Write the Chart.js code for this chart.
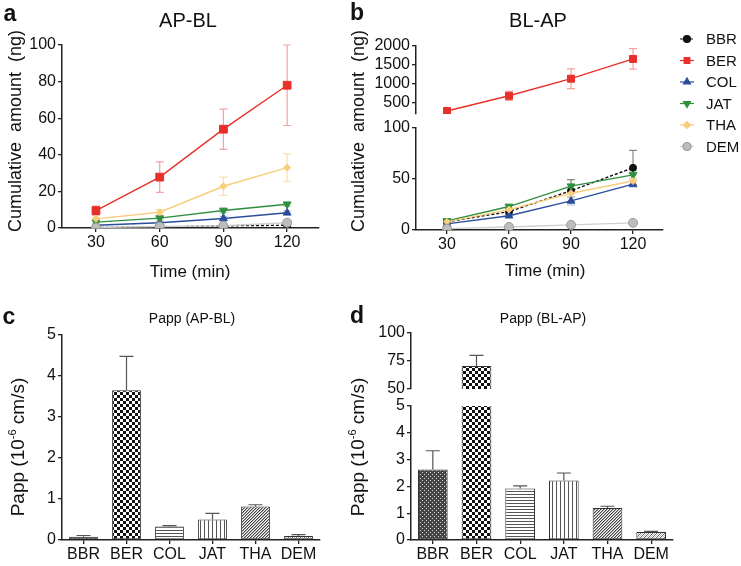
<!DOCTYPE html>
<html>
<head>
<meta charset="utf-8">
<script src="https://cdn.jsdelivr.net/npm/chart.js@4.4.0/dist/chart.umd.min.js"></script>
<style>
  body { margin: 0; width: 741px; height: 566px; background: #fff; position: relative; overflow: hidden;
         font-family: 'Liberation Sans', Arial, sans-serif; color: #111; }
  canvas { position: absolute; }
  .t { position: absolute; white-space: nowrap; transform: translate(-50%, -50%); line-height: 1; }
  .v { transform: translate(-50%, -50%) rotate(-90deg); }
  .lt { font-weight: bold; font-size: 23px; }
  sup { font-size: 11px; }
</style>
</head>
<body>
<canvas id="cA"></canvas>
<canvas id="cB2"></canvas>
<canvas id="cB1"></canvas>
<canvas id="cC"></canvas>
<canvas id="cD2"></canvas>
<canvas id="cD1"></canvas>

<div class="t lt" style="left:10px;top:13px">a</div>
<div class="t lt" style="left:357px;top:12px">b</div>
<div class="t lt" style="left:9px;top:316px">c</div>
<div class="t lt" style="left:357px;top:315px">d</div>
<div class="t" style="left:188px;top:20px;font-size:20px">AP-BL</div>
<div class="t" style="left:538px;top:20px;font-size:20px">BL-AP</div>
<div class="t" style="left:190px;top:271px;font-size:17px">Time (min)</div>
<div class="t" style="left:545px;top:270px;font-size:17px">Time (min)</div>
<div class="t v" style="left:15px;top:131px;font-size:18px">Cumulative&nbsp; amount&nbsp; (ng)</div>
<div class="t v" style="left:358px;top:131px;font-size:18px">Cumulative&nbsp; amount&nbsp; (ng)</div>
<div class="t" style="left:192px;top:318px;font-size:14px">Papp (AP-BL)</div>
<div class="t" style="left:543px;top:318px;font-size:14px">Papp (BL-AP)</div>
<div class="t v" style="left:17px;top:447px;font-size:19px">Papp (10<sup>-6</sup> cm/s)</div>
<div class="t v" style="left:357px;top:447px;font-size:19px">Papp (10<sup>-6</sup> cm/s)</div>

<script>
// time points (min) and compounds
const times = [30, 60, 90, 120];
const drugs = ['BBR', 'BER', 'COL', 'JAT', 'THA', 'DEM'];

// a: AP-BL cumulative amount (ng)
const apBBR = [0.3, 0.5, 1.2, 1.5];
const apBER = [9.5, 27.8, 54, 78];
const apCOL = [1.5, 2.9, 5.2, 8.3];
const apJAT = [3.2, 5.4, 9.6, 13];
const apTHA = [5, 8.6, 22.8, 33];
const apDEM = [0.3, 0.8, 1.2, 2.9];
const apErrBBR = [0.3, 0.3, 0.5, 0.5];
const apErrBER = [2.5, 8.3, 11, 22];
const apErrCOL = [0.5, 0.8, 1.2, 1];
const apErrJAT = [0.8, 1, 1.2, 1];
const apErrTHA = [1, 1.5, 5, 7.5];
const apErrDEM = [0.2, 0.3, 0.4, 0.6];

// b: BL-AP cumulative amount (ng)
const blBBR = [8, 18, 38.5, 61];
const blBER = [290, 690, 1140, 1660];
const blCOL = [6, 14, 28.5, 45];
const blJAT = [9, 23, 43, 54];
const blTHA = [8, 20, 36, 48];
const blDEM = [1.3, 3, 5, 7];
const blErrBBR = [2, 3, 11, 17];
const blErrBER = [40, 120, 260, 270];
const blErrCOL = [1, 2, 4, 3];
const blErrJAT = [1.5, 2.5, 6, 4];
const blErrTHA = [1, 2, 4, 3];
const blErrDEM = [0.3, 0.5, 0.5, 0.8];

// c, d: Papp (10^-6 cm/s)
const pappAPBL = [0.08, 3.65, 0.33, 0.50, 0.82, 0.10];
const pappAPBLErr = [0.03, 0.83, 0.02, 0.15, 0.04, 0.03];
const pappBLAP = [2.63, 70.6, 1.92, 2.22, 1.19, 0.30];
const pappBLAPErr = [0.70, 9.4, 0.10, 0.28, 0.07, 0.02];

// axis ticks
const ticksA = [0, 20, 40, 60, 80, 100];
const ticksBHigh = [500, 1000, 1500, 2000];
const ticksBLow = [0, 50, 100];
const ticksC = [0, 1, 2, 3, 4, 5];
const ticksDHigh = [50, 75, 100];
const ticksDLow = [0, 1, 2, 3, 4, 5];

const FONT = "'Liberation Sans', Arial, sans-serif";
Chart.defaults.font.family = FONT;
Chart.defaults.color = '#111';

const look = {
  BBR: { color: '#111', point: 'circle', r: 3.5, dash: [3, 2], err: '#888', bg: '#111' },
  BER: { color: '#e8302a', point: 'rect', r: 5.5, err: 'rgba(232,48,42,0.45)', bg: '#e8302a' },
  COL: { color: '#2a4d9c', point: 'triangle', r: 4.5, err: 'rgba(42,77,156,0.35)', bg: '#2a4d9c' },
  JAT: { color: '#2f8f3f', point: 'triangle', rot: 180, r: 4.5, err: 'rgba(47,143,63,0.4)', bg: '#2f8f3f' },
  THA: { color: '#f8cd7c', point: 'rectRot', r: 3.5, err: 'rgba(248,205,124,0.6)', bg: '#f8cd7c' },
  DEM: { color: '#cfcfcf', point: 'circle', r: 4.5, err: '#ccc', bg: '#bdbdbd', border: '#999' }
};

// error bars drawn from the dataset's own scales
const errorBars = {
  id: 'errorBars',
  beforeDatasetsDraw(chart) {
    const ctx = chart.ctx, a = chart.chartArea;
    ctx.save();
    ctx.beginPath();
    ctx.rect(a.left - 10, a.top - 1, a.right - a.left + 20, a.bottom - a.top + 2);
    ctx.clip();
    chart.data.datasets.forEach((ds, i) => {
      if (!ds.errors) return;
      const meta = chart.getDatasetMeta(i);
      const vs = meta.vScale;
      ds.data.forEach((d, j) => {
        const v = typeof d === 'object' ? d.y : d;
        const e = ds.errors[j];
        const x = meta.data[j].x;
        const top = vs.getPixelForValue(v + e);
        const bot = ds.oneSided ? vs.getPixelForValue(v) : vs.getPixelForValue(v - e);
        ctx.strokeStyle = ds.errColor;
        ctx.lineWidth = 1.2;
        ctx.setLineDash([]);
        ctx.beginPath();
        ctx.moveTo(x, top); ctx.lineTo(x, bot);
        ctx.moveTo(x - ds.cap, top); ctx.lineTo(x + ds.cap, top);
        if (!ds.oneSided) { ctx.moveTo(x - ds.cap, bot); ctx.lineTo(x + ds.cap, bot); }
        ctx.stroke();
      });
    });
    ctx.restore();
  }
};

// legend at the right of panel b
const sideLegend = {
  id: 'sideLegend',
  afterDraw(chart, args, opts) {
    if (!opts.names) return;
    const ctx = chart.ctx;
    ctx.save();
    opts.names.forEach((n, i) => {
      const s = look[n];
      const y = opts.y + i * opts.dy;
      ctx.strokeStyle = s.color;
      ctx.lineWidth = 1.2;
      ctx.setLineDash(s.dash || []);
      ctx.beginPath();
      ctx.moveTo(opts.x - 7, y); ctx.lineTo(opts.x + 7, y);
      ctx.stroke();
      ctx.setLineDash([]);
      ctx.fillStyle = s.bg;
      ctx.strokeStyle = s.border || s.color;
      const r = Math.min(s.r, 4);
      if (Chart.helpers && Chart.helpers.drawPoint) {
        Chart.helpers.drawPoint(ctx, { pointStyle: s.point, rotation: s.rot || 0, radius: r, borderWidth: 1 }, opts.x, y);
      } else {
        ctx.beginPath(); ctx.arc(opts.x, y, r, 0, Math.PI * 2); ctx.fill();
      }
      ctx.fillStyle = '#111';
      ctx.font = '15px ' + FONT;
      ctx.textBaseline = 'middle';
      ctx.fillText(n, opts.tx, y + 1);
    });
    ctx.restore();
  }
};

function place(id, box) {
  const c = document.getElementById(id);
  c.width = box[2]; c.height = box[3];
  c.style.left = box[0] + 'px'; c.style.top = box[1] + 'px';
  return c;
}

function axis(size, pad) {
  return {
    grid: { drawOnChartArea: false, drawTicks: true, tickLength: 4, color: '#222', lineWidth: 1.3, offset: false },
    border: { display: true, color: '#222', width: 1.5 },
    ticks: { font: { size: size }, color: '#111', padding: pad, maxRotation: 0, autoSkip: false }
  };
}

function lineSet(name, vals, errs, r) {
  const s = look[name];
  return {
    label: name,
    data: times.map((t, i) => ({ x: t, y: vals[i] })),
    errors: errs, errColor: s.err, cap: 4,
    borderColor: s.color, borderWidth: 1.4, borderDash: s.dash || [],
    backgroundColor: s.bg, pointBackgroundColor: s.bg, pointBorderColor: s.border || s.color,
    pointBorderWidth: 1, pointStyle: s.point, pointRotation: s.rot || 0,
    pointRadius: r ? r * s.r : s.r, tension: 0, fill: false
  };
}

// box = canvas [x, y, w, h]; area = plot area [left, top, right, bottom], page coords
function chartIn(id, type, box, area, showX, xScale, yMin, yMax, yTicks, datasets, extra) {
  const xh = showX ? 22 : 0;
  const xs = Object.assign({ display: showX, afterFit: s => { s.height = xh; } }, axis(16, 1), xScale);
  const ys = axis(16, 2);
  ys.ticks.callback = v => String(v);
  return new Chart(place(id, box), {
    type: type,
    data: { labels: type === 'bar' ? drugs : undefined, datasets: datasets },
    options: {
      responsive: false, animation: false, devicePixelRatio: 1,
      layout: { padding: { left: 0, top: area[1] - box[1], right: box[0] + box[2] - area[2], bottom: box[1] + box[3] - area[3] - xh } },
      plugins: { legend: { display: false }, tooltip: { enabled: false }, sideLegend: extra || {} },
      scales: {
        x: xs,
        y: Object.assign({
          min: yMin, max: yMax,
          afterBuildTicks: s => { s.ticks = yTicks.map(v => ({ value: v })); },
          afterFit: s => { s.width = area[0] - box[0]; }
        }, ys)
      }
    },
    plugins: [errorBars, sideLegend]
  });
}

const timeAxis = (mn, mx) => ({
  type: 'linear', min: mn, max: mx,
  afterBuildTicks: s => { s.ticks = times.map(v => ({ value: v })); }
});

// panel a
chartIn('cA', 'line', [0, 0, 340, 290], [62, 45, 319, 228], true, timeAxis(14, 135), 0, 100, ticksA, [
  lineSet('BBR', apBBR, apErrBBR),
  lineSet('BER', apBER, apErrBER),
  lineSet('COL', apCOL, apErrCOL),
  lineSet('JAT', apJAT, apErrJAT),
  lineSet('THA', apTHA, apErrTHA),
  lineSet('DEM', apDEM, apErrDEM)
].reverse());

// panel b, lower segment
chartIn('cB2', 'line', [340, 0, 401, 290], [416, 128, 663, 230], true, timeAxis(15, 134.5), 0, 100, ticksBLow, [
  lineSet('BBR', blBBR, blErrBBR),
  lineSet('COL', blCOL, blErrCOL),
  lineSet('JAT', blJAT, blErrJAT),
  lineSet('THA', blTHA, blErrTHA),
  lineSet('DEM', blDEM, blErrDEM)
].reverse(), { names: drugs, x: 347, tx: 366, y: 39, dy: 21.5 });

// panel b, upper segment (canvas taller than the plot so label padding does not shrink it)
chartIn('cB1', 'line', [340, 0, 401, 135], [416, 46, 663, 114], false, timeAxis(15, 134.5), 211, 2000, ticksBHigh, [
  lineSet('BER', blBER, blErrBER, 0.9)
]);

// bar patterns
function pattern(size, paint) {
  const c = document.createElement('canvas');
  c.width = c.height = size;
  const g = c.getContext('2d');
  g.fillStyle = '#fff'; g.fillRect(0, 0, size, size);
  paint(g, size);
  return g.createPattern(c, 'repeat');
}
const fills = [
  pattern(4, g => { g.fillStyle = '#444'; g.fillRect(0, 0, 4, 4); g.fillStyle = '#ddd'; g.fillRect(0, 0, 1, 1); g.fillRect(2, 2, 1, 1); }),
  pattern(6, g => { g.fillStyle = '#111'; g.fillRect(0, 0, 3, 3); g.fillRect(3, 3, 3, 3); }),
  pattern(3, g => { g.fillStyle = '#555'; g.fillRect(0, 0, 3, 1); }),
  pattern(4, g => { g.fillStyle = '#555'; g.fillRect(0, 0, 1, 4); }),
  pattern(3, g => { for (let i = 0; i < 3; i++) { g.fillStyle = '#444'; g.fillRect(i, 2 - i, 1, 1); g.fillStyle = '#aaa'; g.fillRect(i, (3 - i) % 3, 1, 1); } }),
  pattern(4, g => { for (let i = 0; i < 4; i++) { g.fillStyle = '#666'; g.fillRect(i, 3 - i, 1, 1); g.fillStyle = '#bbb'; g.fillRect(i, (5 - i) % 4, 1, 1); } })
];

function barSet(vals, errs, pct) {
  return {
    data: vals, errors: errs, oneSided: true, errColor: '#555', cap: 7,
    backgroundColor: fills, borderColor: '#333', borderWidth: 1, borderSkipped: false,
    barPercentage: pct, categoryPercentage: 1
  };
}
const catAxis = { type: 'category' };

// panel c
chartIn('cC', 'bar', [0, 290, 340, 276], [62, 335, 320, 540], true, catAxis, 0, 5, ticksC, [
  barSet(pappAPBL, pappAPBLErr, 0.67)
]);

// panel d, lower and upper segment
chartIn('cD2', 'bar', [340, 290, 401, 276], [411, 406, 673, 540], true, catAxis, 0, 5, ticksDLow, [
  barSet(pappBLAP, pappBLAPErr, 0.68)
]);
chartIn('cD1', 'bar', [340, 290, 401, 120], [411, 333, 673, 389], false, catAxis, 50, 100, ticksDHigh, [
  barSet(pappBLAP, pappBLAPErr, 0.68)
]);
</script>
</body>
</html>
